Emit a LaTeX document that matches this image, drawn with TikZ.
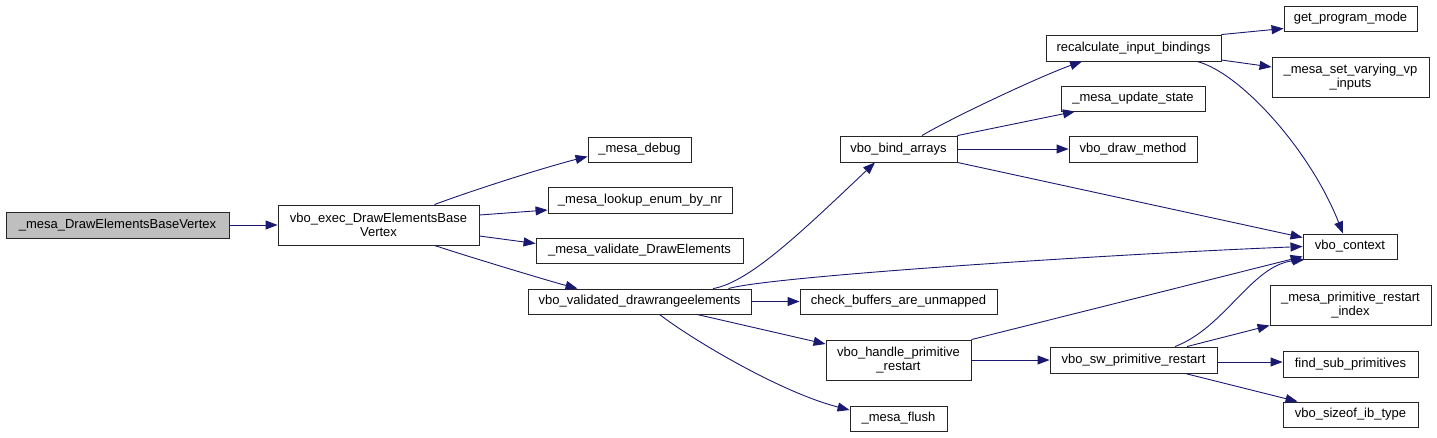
\documentclass[tikz,border=0pt]{standalone}
\usepackage{fontspec}
\setmainfont{Liberation Sans}
\usetikzlibrary{arrows.meta}
\definecolor{edgeblue}{HTML}{191970}
\definecolor{rootgray}{HTML}{BFBFBF}
\begin{document}
\begin{tikzpicture}[x=1pt, y=-1pt,
    fn/.style 2 args={draw=black!85, line width=0.9pt, fill=white, inner sep=0pt, align=center,
      minimum width=#1pt, minimum height=#2pt, font=\fontsize{13}{14.5}\selectfont},
    arr/.style={-{Triangle[length=12pt,width=9pt]}, line width=0.9pt, color=edgeblue},
  ]
  \useasboundingbox (0,0) rectangle (1437,437);
  \node[fn={223}{26}, fill=rootgray] (src) at (117.5,225) {\_mesa\_DrawElementsBaseVertex};
  \node[fn={201}{40}] (exec)   at (378.5,225)  {vbo\_exec\_DrawElementsBase\\Vertex};
  \node[fn={103}{25}] (dbg)    at (639.5,149.5) {\_mesa\_debug};
  \node[fn={184}{26}] (lookup) at (640,200)    {\_mesa\_lookup\_enum\_by\_nr};
  \node[fn={207}{25}] (valid)  at (639.5,250.5) {\_mesa\_validate\_DrawElements};
  \node[fn={223}{25}] (vdre)   at (639.5,301.5) {vbo\_validated\_drawrangeelements};
  \node[fn={117}{26}] (bind)   at (898.5,149)  {vbo\_bind\_arrays};
  \node[fn={197}{25}] (check)  at (898.5,301.5) {check\_buffers\_are\_unmapped};
  \node[fn={145}{40}] (handle) at (898.5,360)  {vbo\_handle\_primitive\\\_restart};
  \node[fn={97}{25}]  (flush)  at (898.5,418.5) {\_mesa\_flush};
  \node[fn={175}{26}] (recalc) at (1133.5,48)  {recalculate\_input\_bindings};
  \node[fn={144}{25}] (upd)    at (1133,98.5)  {\_mesa\_update\_state};
  \node[fn={128}{26}] (drawm)  at (1133,149)   {vbo\_draw\_method};
  \node[fn={167}{26}] (sw)     at (1133.5,360) {vbo\_sw\_primitive\_restart};
  \node[fn={133}{25}] (gpm)    at (1350.5,18.5) {get\_program\_mode};
  \node[fn={157}{40}] (svi)    at (1350.5,77)  {\_mesa\_set\_varying\_vp\\\_inputs};
  \node[fn={94}{25}]  (ctx)    at (1350,246.5) {vbo\_context};
  \node[fn={161}{40}] (pri)    at (1350.5,305) {\_mesa\_primitive\_restart\\\_index};
  \node[fn={135}{26}] (fsp)    at (1350.5,364) {find\_sub\_primitives};
  \node[fn={135}{25}] (sib)    at (1350.5,414.5) {vbo\_sizeof\_ib\_type};

  \draw[arr] (src) -- (exec);
  \draw[arr] ([xshift=56pt]exec.north) .. controls +(40,-15) and +(-40,10) .. ([yshift=-7pt]dbg.west);
  \draw[arr] ([yshift=10pt]exec.east) -- ([yshift=-10pt]lookup.west);
  \draw[arr] ([yshift=-11pt]exec.east) -- ([yshift=7pt]valid.west);
  \draw[arr] ([xshift=56pt]exec.south) .. controls +(30,10) and +(-30,-8) .. ([xshift=-62pt]vdre.north);
  \draw[arr] ([xshift=73.5pt]vdre.north) .. controls +(37,-6) and +(-70,66) .. ([xshift=-23.5pt]bind.south);
  \draw[arr] ([xshift=89pt]vdre.north) .. controls +(40,-12) and +(-200,8) .. (ctx.west);
  \draw[arr] (vdre) -- (check);
  \draw[arr] ([xshift=57.5pt]vdre.south) -- ([yshift=16pt]handle.west);
  \draw[arr] ([xshift=20pt]vdre.south) .. controls +(31,24) and +(-70,-18) .. ([yshift=8.5pt]flush.west);
  \draw[arr] ([xshift=23.5pt]bind.north) .. controls +(30,-18) and +(-40,14) .. ([xshift=-51.5pt]recalc.south);
  \draw[arr] (bind.north east) -- ([xshift=-58pt]upd.south);
  \draw[arr] (bind) -- (drawm);
  \draw[arr] (bind.south east) -- ([yshift=9pt]ctx.west);
  \draw[arr] (recalc.north east) -- ([yshift=-10pt]gpm.west);
  \draw[arr] ([yshift=-12pt]recalc.east) -- ([yshift=10pt]svi.west);
  \draw[arr] ([xshift=63.5pt]recalc.south) .. controls +(43,11) and +(-33,-84) .. ([xshift=-7pt]ctx.north);
  \draw[arr] (handle.north east) -- ([yshift=3pt]ctx.south west);
  \draw[arr] (handle) -- (sw);
  \draw[arr] ([xshift=41.5pt]sw.north) .. controls +(50,-19) and +(-53,6) .. ([xshift=2pt]ctx.south west);
  \draw[arr] ([xshift=53.5pt]sw.north) -- (pri.south west);
  \draw[arr] ([yshift=-2pt]sw.east) -- ([yshift=2pt]fsp.west);
  \draw[arr] ([xshift=51.5pt]sw.south) -- ([xshift=15pt]sib.north west);
\end{tikzpicture}
\end{document}
